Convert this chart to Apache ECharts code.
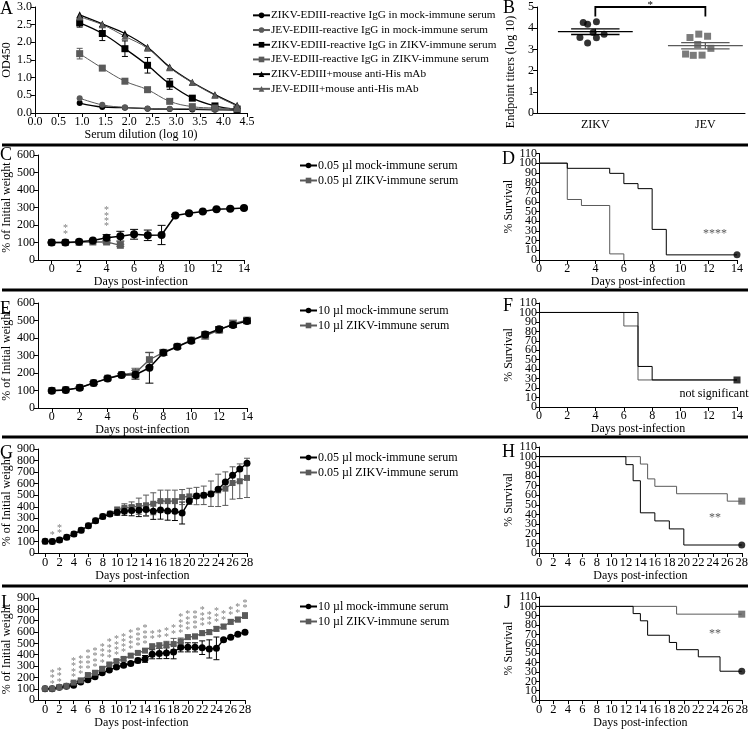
<!DOCTYPE html>
<html><head><meta charset="utf-8">
<script src="https://cdn.jsdelivr.net/npm/echarts@6/dist/echarts.min.js"></script>
<style>html,body{margin:0;padding:0;background:#fff}#c{width:751px;height:730px}</style>
</head><body><div id="c"></div>
<script>
// ---------- DATA ----------
// Panel A
const aDilution = [0.95,1.43,1.91,2.39,2.86,3.34,3.82,4.29];
const aZikvMock = [0.28,0.17,0.15,0.12,0.11,0.10,0.09,0.08];
const aJevMock  = [0.42,0.23,0.16,0.13,0.12,0.12,0.11,0.10];
const aZikvImm  = [2.55,2.25,1.82,1.35,0.82,0.42,0.20,0.10];
const aZikvImmErr = [0.12,0.20,0.22,0.22,0.15,0.05,0.04,0.03];
const aJevImm   = [1.68,1.27,0.90,0.66,0.33,0.18,0.14,0.12];
const aJevImmErr = [0.15,0.04,0.06,0.06,0.03,0.02,0.02,0.02];
const aZikvHis  = [2.78,2.52,2.25,1.86,1.30,0.87,0.52,0.22];
const aJevHis   = [2.72,2.50,2.17,1.83,1.28,0.86,0.50,0.20];
const aNames = ['ZIKV-EDIII-reactive IgG in mock-immune serum','JEV-EDIII-reactive IgG in mock-immune serum',
  'ZIKV-EDIII-reactive IgG in ZIKV-immune serum','JEV-EDIII-reactive IgG in ZIKV-immune serum',
  'ZIKV-EDIII+mouse anti-His mAb','JEV-EDIII+mouse anti-His mAb'];
// Panel B
const bCategories = ['ZIKV','JEV'];
const bZikvX = [0.89,0.93,1.01,0.86,0.93,1.01,1.08,0.98];
const bZikv  = [4.27,4.19,4.31,3.56,3.30,3.55,3.72,3.80];
const bJevX  = [1.86,1.94,2.02,1.93,2.05,1.82,1.89,1.97];
const bJev   = [3.56,3.72,3.62,3.23,3.05,2.78,2.72,2.73];
// Weight panels
const days14 = [0,1,2,3,4,5,6,7,8,9,10,11,12,13,14];
const days28 = [0,1,2,3,4,5,6,7,8,9,10,11,12,13,14,15,16,17,18,19,20,21,22,23,24,25,26,27,28];
const ticks14 = [0,2,4,6,8,10,12,14];
const ticks28 = [0,2,4,6,8,10,12,14,16,18,20,22,24,26,28];
const w900LabelsA = [0,200,400,600,800];
const w900LabelsB = [100,300,500,700,900];
const survLabelsA = [0,20,40,60,80,100];
const survLabelsB = [10,30,50,70,90,110];
const cMock    = [100,100,104,111,127,136,147,141,143,254,267,277,290,293,297];
const cMockErr = [3,3,4,6,18,28,28,30,55,6,6,5,5,5,5];
const cZikv    = [100,100,101,103,103,84];
const cZikvErr = [3,3,3,4,8,6];
const cStars = [[1,2],[4,4]];
const eMock    = [99,103,116,143,168,189,190,230,316,350,385,420,450,475,497];
const eMockErr = [4,4,6,8,8,8,25,88,15,10,12,15,15,15,15];
const eZikv    = [100,104,117,143,170,190,202,276,318,352,388,412,445,482,502];
const eZikvErr = [4,4,6,8,8,8,25,40,15,10,15,18,15,20,15];
const gMock    = [101,100,113,137,164,197,236,280,316,337,352,361,367,370,376,361,373,364,361,346,449,493,499,510,551,615,673,726,776];
const gMockErr = [3,3,5,5,6,8,8,10,12,15,25,35,45,55,55,70,80,80,80,95,0,0,0,0,0,0,0,0,0];
const gZikv    = [100,100,113,137,164,197,236,280,316,340,373,391,397,405,411,426,449,449,449,484,490,493,499,513,542,557,606,621,650];
const gZikvErr = [3,3,5,5,6,8,8,10,12,15,25,35,45,70,90,95,95,95,95,65,70,75,80,110,140,145,140,150,170];
const gStars = [[1,1],[2,2]];
const iMock    = [99,99,113,122,131,160,180,206,241,265,291,308,323,349,363,404,410,416,424,465,465,465,462,451,456,532,555,581,599];
const iMockErr = [3,3,5,5,5,8,8,10,10,12,12,15,15,20,30,40,45,50,60,40,40,40,60,80,100,10,10,10,10];
const iZikv    = [100,100,115,125,154,174,221,241,276,314,343,363,392,416,436,474,480,488,494,517,555,561,590,599,628,648,690,710,745];
const iZikvErr = [4,4,6,6,8,10,10,10,12,12,12,15,15,15,15,20,25,30,50,30,20,20,20,20,20,20,20,20,25];
const iStars = [[1,3],[2,3],[4,4],[5,4],[6,4],[7,4],[8,4],[9,4],[10,4],[11,4],[12,4],[13,4],[14,4],[15,2],[16,2],[17,2],[18,2],[19,4],[20,4],[21,4],[22,4],[23,3],[24,3],[25,2],[26,2],[27,2],[28,2]];
// Survival panels
const dMockT = [0,2,5,6,7,8,9,14];      const dMockS = [100,94.7,89.5,78.9,73.7,31.6,5.3,5.3];
const dZikvT = [0,2,3,5,6];             const dZikvS = [100,62.5,56.3,6.3,0];
const fMockT = [0,7,8,14];              const fMockS = [100,42.9,28.6,28.6];
const fZikvT = [0,6,7,14];              const fZikvS = [100,85.7,28.6,28.6];
const hMockT = [0,12,13,14,16,18,20,28];const hMockS = [100,91.7,75,41.7,33.3,25,8.3,8.3];
const hZikvT = [0,14,15,16,19,26,28];   const hZikvS = [100,92.3,76.9,69.2,61.5,53.8,53.8];
const jMockT = [0,13,14,15,18,19,22,25,28]; const jMockS = [100,92.3,84.6,69.2,61.5,53.8,46.2,30.8,30.8];
const jZikvT = [0,19,28];               const jZikvS = [100,91.7,91.7];

// ---------- STYLE / LAYOUT ----------
const F = 'Liberation Serif';
const BLK = '#000', GRY = '#5a5a5a';
const mock005 = '0.05 µl mock-immune serum', zikv005 = '0.05 µl ZIKV-immune serum';
const mock10 = '10 µl mock-immune serum', zikv10 = '10 µl ZIKV-immune serum';

const grids = [
  {left:34, top:7, width:213, height:106},     // A
  {left:537, top:7, width:208, height:106},    // B
  {left:36, top:155, width:208, height:105},   // C
  {left:539, top:153.5, width:198, height:106.5}, // D
  {left:35, top:303, width:212, height:105},   // E
  {left:539, top:303, width:198, height:104},  // F
  {left:35, top:449, width:212, height:104},   // G
  {left:539, top:447, width:204, height:106},  // H
  {left:35, top:598, width:210, height:103},   // I
  {left:539, top:597, width:204, height:105}   // J
];

const axLine = {show:true, onZero:false, lineStyle:{color:BLK, width:1}};
function lbl(o){ return Object.assign({color:BLK, fontFamily:F, fontSize:12, margin:3}, o); }
function xAx(gi, o) {
  return Object.assign({gridIndex:gi, type:'value', axisLine:axLine, splitLine:{show:false},
    axisTick:{show:true, length:4, lineStyle:{color:BLK}},
    axisLabel:lbl({showMinLabel:true, showMaxLabel:true}),
    nameLocation:'middle', nameGap:14, nameTextStyle:{color:BLK, fontFamily:F, fontSize:12}}, o);
}
function yAx(gi, o) {
  return Object.assign({gridIndex:gi, type:'value', position:'left', offset:0, axisLine:axLine, splitLine:{show:false},
    axisTick:{show:true, length:4, lineStyle:{color:BLK}},
    axisLabel:lbl({}),
    nameLocation:'middle', nameRotate:90, nameGap:22, nameTextStyle:{color:BLK, fontFamily:F, fontSize:12}}, o);
}
// label-only companion axis (same scale) so that densely packed tick labels are all shown
function yLabelAx(gi, min, max, vals, o) {
  return {gridIndex:gi, type:'value', position:'left', offset:0, min, max, splitLine:{show:false},
    axisLine:{show:false}, axisTick:{show:false}, axisLabel:lbl(Object.assign({customValues:vals}, o||{}))};
}
const tk = vals => ({show:true, length:4, lineStyle:{color:BLK}, customValues:vals});

const xAxes = [
  xAx(0, {min:0, max:4.5, interval:0.5, name:'Serum dilution (log 10)', nameGap:15, axisLabel:lbl({showMinLabel:true, showMaxLabel:true, formatter:v=>v.toFixed(1)})}),
  xAx(1, {min:0.47, max:2.36, axisTick:{show:false}, axisLabel:lbl({customValues:[1,2], formatter:v=>bCategories[Math.round(v)-1], margin:6})}),
  xAx(2, {min:-1, max:14, name:'Days post-infection', axisTick:tk(ticks14), axisLabel:lbl({customValues:ticks14})}),
  xAx(3, {min:0, max:14, interval:2, name:'Days post-infection'}),
  xAx(4, {min:-1, max:14, name:'Days post-infection', axisTick:tk(ticks14), axisLabel:lbl({customValues:ticks14})}),
  xAx(5, {min:0, max:14, interval:2, name:'Days post-infection'}),
  xAx(6, {min:-1, max:28, name:'Days post-infection', axisTick:tk(ticks28), axisLabel:lbl({customValues:ticks28, fontSize:12.5})}),
  xAx(7, {min:0, max:28, interval:2, name:'Days post-infection', axisLabel:lbl({fontSize:12.5, showMinLabel:true, showMaxLabel:true})}),
  xAx(8, {min:-1, max:28, name:'Days post-infection', axisTick:tk(ticks28), axisLabel:lbl({customValues:ticks28, fontSize:12.5})}),
  xAx(9, {min:0, max:28, interval:2, name:'Days post-infection', axisLabel:lbl({fontSize:12.5, showMinLabel:true, showMaxLabel:true})})
];
const survY = gi => yAx(gi, {min:0, max:110, interval:10, name:'% Survival', nameGap:21,
  axisLabel:lbl({customValues:survLabelsA, margin:2}), axisTick:{show:true,length:3,lineStyle:{color:BLK}}});
const w900Y = gi => yAx(gi, {min:0, max:900, interval:100, name:'% of Initial weight', nameGap:23, axisLabel:lbl({customValues:w900LabelsA})});
const yAxes = [
  yAx(0, {min:0, max:3, interval:0.5, name:'OD450', nameGap:20, axisLabel:lbl({showMinLabel:true, showMaxLabel:true, formatter:v=>v.toFixed(1)})}),
  yAx(1, {min:0, max:5, interval:1, axisLabel:lbl({showMinLabel:true, showMaxLabel:true})}),
  yAx(2, {min:0, max:600, interval:100, name:'% of Initial weight', nameGap:23, axisLabel:lbl({showMinLabel:true, showMaxLabel:true})}),
  survY(3),
  yAx(4, {min:0, max:600, interval:100, name:'% of Initial weight', nameGap:23, axisLabel:lbl({showMinLabel:true, showMaxLabel:true})}),
  survY(5),
  w900Y(6),
  survY(7),
  w900Y(8),
  survY(9),
  yLabelAx(3, 0, 110, survLabelsB, {margin:2}), yLabelAx(5, 0, 110, survLabelsB, {margin:2}),
  yLabelAx(7, 0, 110, survLabelsB, {margin:2}), yLabelAx(9, 0, 110, survLabelsB, {margin:2}),
  yLabelAx(6, 0, 900, w900LabelsB), yLabelAx(8, 0, 900, w900LabelsB)
];

// ---------- SERIES ----------
const series = [];
function pairs(xs, ys){ return ys.map((y,i)=>[xs[i], y]); }
function lineS(name, gi, xs, ys, color, symbol, size, width, extra) {
  series.push(Object.assign({type:'line', name, xAxisIndex:gi, yAxisIndex:gi, data:pairs(xs, ys),
    symbol, symbolSize:size, showSymbol:true, lineStyle:{color, width}, itemStyle:{color}, z:4}, extra||{}));
}
function errS(gi, xs, ys, es, color, cap) {
  const data = [];
  ys.forEach((y,i)=>{ if (es[i] > 0) data.push([xs[i], y-es[i], y+es[i]]); });
  series.push({type:'custom', xAxisIndex:gi, yAxisIndex:gi, silent:true, z:3, data, encode:{x:0, y:[1,2]},
    renderItem:(p, api)=>{
      const x = api.value(0);
      const a = api.coord([x, api.value(1)]), b = api.coord([x, api.value(2)]);
      const st = {stroke:color, lineWidth:1};
      return {type:'group', children:[
        {type:'line', shape:{x1:a[0],y1:a[1],x2:b[0],y2:b[1]}, style:st},
        {type:'line', shape:{x1:a[0]-cap,y1:a[1],x2:a[0]+cap,y2:a[1]}, style:st},
        {type:'line', shape:{x1:b[0]-cap,y1:b[1],x2:b[0]+cap,y2:b[1]}, style:st}]};
    }});
}
function starS(gi, items, xs, y1, e1, y2, e2, pad) {
  series.push({type:'scatter', xAxisIndex:gi, yAxisIndex:gi, symbolSize:0, silent:true, z:6,
    data: items.map(([d,n])=>{
      const i = xs.indexOf(d);
      const base = Math.max(y1[i]+(e1[i]||0), (i<y2.length ? y2[i]+(e2[i]||0) : 0)) + pad;
      return {value:[d, base], label:{formatter:new Array(n).fill('*').join('\n')}};
    }),
    label:{show:true, position:'top', distance:0, color:GRY, fontSize:10, lineHeight:5.3, fontFamily:F}});
}
function kmS(gi, ts, ss, color) {
  series.push({type:'line', xAxisIndex:gi, yAxisIndex:gi, step:'end', data:pairs(ts, ss), symbol:'none',
    lineStyle:{color, width:1}, z:3, silent:true});
}
function endS(gi, ts, ss, color, symbol, size) {
  const n = ts.length-1;
  series.push({type:'scatter', xAxisIndex:gi, yAxisIndex:gi, data:[[ts[n], ss[n]]], symbol, symbolSize:size, itemStyle:{color}, z:5, silent:true});
}

// A
lineS(aNames[0], 0, aDilution, aZikvMock, BLK, 'circle', 6, 1.3, {smooth:0.4});
lineS(aNames[1], 0, aDilution, aJevMock, GRY, 'circle', 6, 1, {smooth:0.4});
lineS(aNames[2], 0, aDilution, aZikvImm, BLK, 'rect', 7, 1.3, {smooth:0.4});
lineS(aNames[3], 0, aDilution, aJevImm, GRY, 'rect', 7, 1, {smooth:0.4});
lineS(aNames[4], 0, aDilution, aZikvHis, BLK, 'triangle', 7, 1.3, {smooth:0.4});
lineS(aNames[5], 0, aDilution, aJevHis, GRY, 'triangle', 7, 1, {smooth:0.4});
errS(0, aDilution, aZikvImm, aZikvImmErr, BLK, 3);
errS(0, aDilution, aJevImm, aJevImmErr, GRY, 3);

// B
series.push({type:'scatter', xAxisIndex:1, yAxisIndex:1, data:pairs(bZikvX, bZikv), symbol:'circle', symbolSize:7, itemStyle:{color:BLK}, z:4});
series.push({type:'scatter', xAxisIndex:1, yAxisIndex:1, data:pairs(bJevX, bJev), symbol:'rect', symbolSize:7, itemStyle:{color:GRY}, z:4});
function meanSem(v){ const m=v.reduce((a,b)=>a+b,0)/v.length; const sd=Math.sqrt(v.reduce((a,b)=>a+(b-m)*(b-m),0)/(v.length-1)); return [m, sd/Math.sqrt(v.length)]; }
const bStats = [meanSem(bZikv), meanSem(bJev)];
series.push({type:'custom', xAxisIndex:1, yAxisIndex:1, silent:true, z:5, encode:{x:0,y:1},
  data: bStats.map((s,i)=>[i+1, s[0], s[1], i===0?BLK:GRY]),
  renderItem:(p, api)=>{
    const x=api.value(0), m=api.value(1), e=api.value(2), c=api.value(3);
    const L=api.coord([x-0.34,m]), R=api.coord([x+0.34,m]);
    const t1=api.coord([x-0.22,m+e]), t2=api.coord([x+0.22,m+e]);
    const b1=api.coord([x-0.22,m-e]), b2=api.coord([x+0.22,m-e]);
    const cx=api.coord([x,m+e]), cb=api.coord([x,m-e]);
    const st={stroke:c, lineWidth:1.3};
    return {type:'group', children:[
      {type:'line', shape:{x1:L[0],y1:L[1],x2:R[0],y2:R[1]}, style:st},
      {type:'line', shape:{x1:t1[0],y1:t1[1],x2:t2[0],y2:t2[1]}, style:st},
      {type:'line', shape:{x1:b1[0],y1:b1[1],x2:b2[0],y2:b2[1]}, style:st},
      {type:'line', shape:{x1:cx[0],y1:cx[1],x2:cb[0],y2:cb[1]}, style:st}]};
  }});
// significance bracket between ZIKV and JEV
series.push({type:'custom', xAxisIndex:1, yAxisIndex:1, silent:true, z:5, encode:{x:0,y:2}, clip:false,
  data:[[1, 2, 5.0, 4.55]],
  renderItem:(p, api)=>{
    const a=api.coord([api.value(0), api.value(2)]), b=api.coord([api.value(1), api.value(2)]);
    const a2=api.coord([api.value(0), api.value(3)]), b2=api.coord([api.value(1), api.value(3)]);
    const st={stroke:BLK, lineWidth:1.8};
    return {type:'group', children:[
      {type:'polyline', shape:{points:[a2,a,b,b2]}, style:Object.assign({fill:null}, st)},
      {type:'text', style:{x:(a[0]+b[0])/2, y:a[1]-7, text:'*', fill:BLK, font:'11px "Liberation Serif"', align:'center', verticalAlign:'top'}}]};
  }});

// C
errS(2, days14, cMock, cMockErr, BLK, 4);
errS(2, days14, cZikv, cZikvErr, GRY, 4);
lineS(zikv005, 2, days14, cZikv, GRY, 'rect', 7, 1.3);
lineS(mock005, 2, days14, cMock, BLK, 'circle', 8, 1.5);
starS(2, cStars, days14, cMock, cMockErr, cZikv, cZikvErr, 30);
// E
errS(4, days14, eMock, eMockErr, BLK, 4);
errS(4, days14, eZikv, eZikvErr, GRY, 4);
lineS(zikv10, 4, days14, eZikv, GRY, 'rect', 7, 1.3);
lineS(mock10, 4, days14, eMock, BLK, 'circle', 8, 1.5);
// G
errS(6, days28, gMock, gMockErr, BLK, 3);
errS(6, days28, gZikv, gZikvErr, GRY, 3);
lineS(zikv005, 6, days28, gZikv, GRY, 'rect', 6, 1.2);
lineS(mock005, 6, days28, gMock, BLK, 'circle', 7, 1.4);
starS(6, gStars, days28, gMock, gMockErr, gZikv, gZikvErr, 25);
// I
errS(8, days28, iMock, iMockErr, BLK, 3);
errS(8, days28, iZikv, iZikvErr, GRY, 3);
lineS(mock10, 8, days28, iMock, BLK, 'circle', 7, 1.4);
lineS(zikv10, 8, days28, iZikv, GRY, 'rect', 6, 1.2);
starS(8, iStars, days28, iMock, iMockErr, iZikv, iZikvErr, 15);

// Survival
kmS(3, dZikvT, dZikvS, GRY); kmS(3, dMockT, dMockS, BLK); endS(3, dMockT, dMockS, BLK, 'circle', 7);
kmS(5, fZikvT, fZikvS, GRY); kmS(5, fMockT, fMockS, BLK); endS(5, fMockT, fMockS, BLK, 'rect', 7);
kmS(7, hZikvT, hZikvS, GRY); kmS(7, hMockT, hMockS, BLK); endS(7, hZikvT, hZikvS, GRY, 'rect', 7); endS(7, hMockT, hMockS, BLK, 'circle', 7);
kmS(9, jZikvT, jZikvS, GRY); kmS(9, jMockT, jMockS, BLK); endS(9, jZikvT, jZikvS, GRY, 'rect', 7); endS(9, jMockT, jMockS, BLK, 'circle', 7);

// ---------- LEGENDS / GRAPHICS ----------
const legBase = {orient:'vertical', selectedMode:false, itemWidth:17, itemHeight:7, itemGap:0,
  textStyle:{fontFamily:F, fontSize:12, color:BLK, lineHeight:15, padding:[0,0,0,-4]}};
const legends = [
  Object.assign({}, legBase, {data:aNames, left:247, top:3, textStyle:Object.assign({}, legBase.textStyle, {fontSize:11.2, lineHeight:14.7})}),
  Object.assign({}, legBase, {data:[mock005, zikv005], left:294, top:153}),
  Object.assign({}, legBase, {data:[mock10, zikv10], left:294, top:298}),
  Object.assign({}, legBase, {data:[mock005, zikv005], left:294, top:445}),
  Object.assign({}, legBase, {data:[mock10, zikv10], left:294, top:594})
];
const txt = (x, y, s, size, fill, align) => ({type:'text', x, y, style:{text:s, font:size+'px "Liberation Serif"', fill:fill||BLK, align:align||'left', verticalAlign:'middle'}});
const sep = y => ({type:'rect', shape:{x:2, y:y-1.5, width:746, height:3}, style:{fill:BLK}});
const graphic = [
  sep(145), sep(290), sep(437), sep(586),
  txt(0, 9, 'A', 18), {type:'rect', shape:{x:499, y:0, width:17, height:18}, style:{fill:'#fff'}}, txt(503, 8, 'B', 18),
  txt(0, 155, 'C', 18), txt(502, 159, 'D', 18),
  txt(0, 309, 'E', 18), txt(503, 306, 'F', 18), txt(0, 453, 'G', 18), txt(502, 452, 'H', 18),
  txt(1, 603, 'I', 18), txt(504, 603, 'J', 18),
  {type:'text', x:511, y:72, rotation:Math.PI/2, style:{text:'Endpoint titers (log 10)', font:'12px "Liberation Serif"', fill:BLK, align:'center', verticalAlign:'middle'}},
  txt(715, 234, '****', 12, GRY, 'center'), txt(714, 394, 'not significant', 12, BLK, 'center'),
  txt(715, 518, '**', 12, GRY, 'center'), txt(715, 634, '**', 12, GRY, 'center')
];

const chart = echarts.init(document.getElementById('c'), null, {renderer:'canvas'});
chart.setOption({
  animation:false, backgroundColor:'#fff',
  textStyle:{fontFamily:F},
  grid:grids, xAxis:xAxes, yAxis:yAxes, series, legend:legends, graphic
});
</script></body></html>
